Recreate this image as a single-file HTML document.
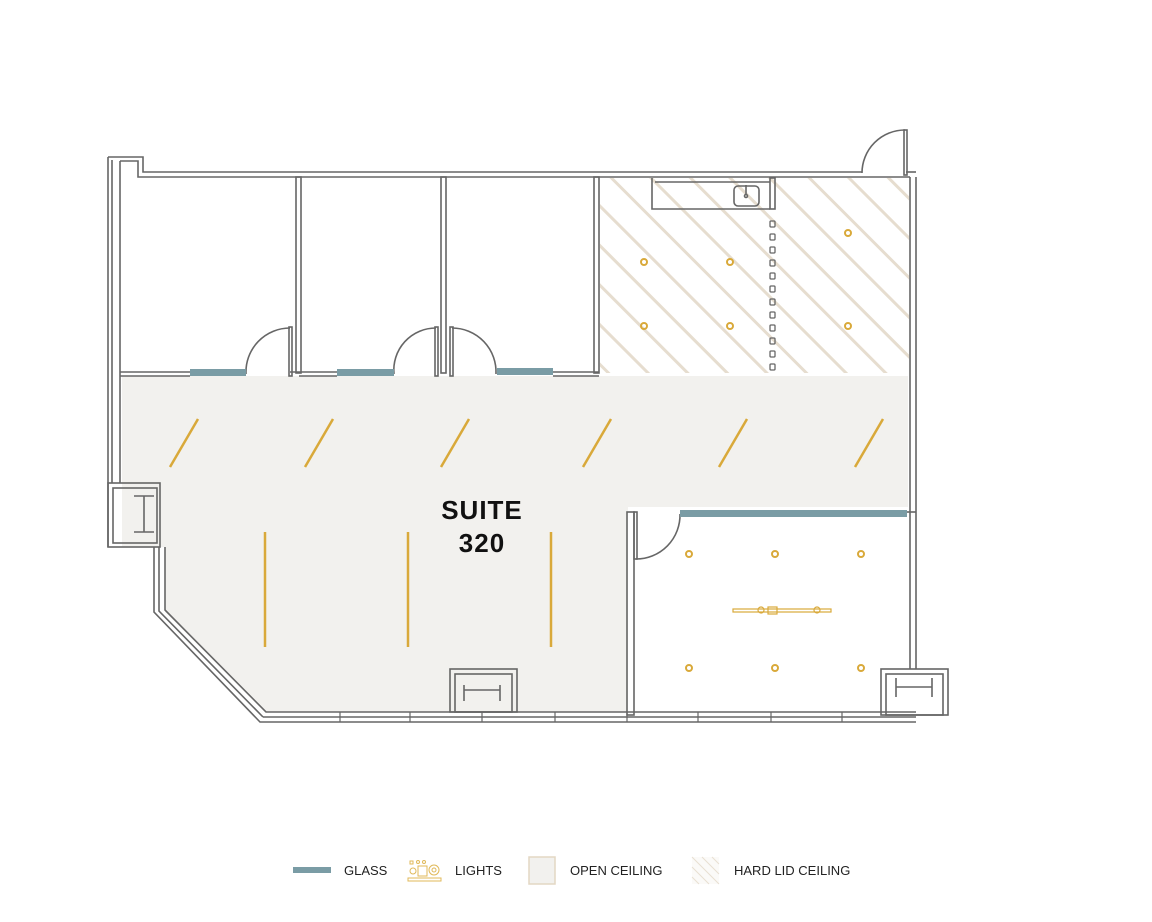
<!DOCTYPE html>
<html><head><meta charset="utf-8"><style>
html,body{margin:0;padding:0;background:#fff;}
svg{display:block;}
</style></head><body>
<svg width="1152" height="922" viewBox="0 0 1152 922" xmlns="http://www.w3.org/2000/svg" font-family="Liberation Sans, sans-serif">
<defs>
<pattern id="hatch" patternUnits="userSpaceOnUse" width="28" height="28" patternTransform="rotate(45)">
<rect width="28" height="28" fill="#fff"/>
<rect x="0" y="0" width="28" height="3" fill="#e6ddcf"/>
</pattern>
</defs>
<!-- open ceiling -->
<polygon points="122,376 908,376 908,507 628,507 628,712 265,712 165,612 165,547 122,547" fill="#f2f1ee"/>
<!-- hard lid -->
<rect x="600" y="178" width="309" height="195" fill="url(#hatch)"/>
<g fill="none" stroke="#666" stroke-width="1.6">
<polyline points="108,157 143,157 143,172 862,172"/>
<polyline points="120,161 138,161 138,177 910,177"/>
<line x1="906" y1="172" x2="916" y2="172"/>
<line x1="108" y1="157" x2="108" y2="547"/>
<line x1="112" y1="160" x2="112" y2="483"/>
<line x1="120" y1="161" x2="120" y2="483"/>
<rect x="108" y="483" width="52" height="64"/>
<rect x="113" y="488" width="44" height="55"/>
<line x1="134" y1="496" x2="154" y2="496"/><line x1="134" y1="532" x2="154" y2="532"/><line x1="144" y1="496" x2="144" y2="532"/>
<polyline points="154,547 154,612 260,722 916,722"/>
<polyline points="165,547 165,610 266,712 916,712"/>
<polyline points="159,547 159,611 263,717"/>
<line x1="263" y1="717" x2="916" y2="717"/>
<g stroke-width="1.2">
<line x1="340" y1="712" x2="340" y2="722"/><line x1="410" y1="712" x2="410" y2="722"/><line x1="482" y1="712" x2="482" y2="722"/><line x1="555" y1="712" x2="555" y2="722"/><line x1="627" y1="712" x2="627" y2="722"/><line x1="698" y1="712" x2="698" y2="722"/><line x1="771" y1="712" x2="771" y2="722"/><line x1="842" y1="712" x2="842" y2="722"/>
</g>
<rect x="450" y="669" width="67" height="43"/>
<rect x="455" y="674" width="57" height="38"/>
<line x1="464" y1="685" x2="464" y2="701"/><line x1="500" y1="685" x2="500" y2="701"/><line x1="464" y1="690" x2="500" y2="690"/>
<rect x="881" y="669" width="67" height="46"/>
<rect x="886" y="674" width="57" height="41"/>
<line x1="896" y1="678" x2="896" y2="697"/><line x1="932" y1="678" x2="932" y2="697"/><line x1="896" y1="687" x2="932" y2="687"/>
<line x1="910" y1="177" x2="910" y2="669"/>
<line x1="916" y1="177" x2="916" y2="669"/>
<rect x="296" y="177" width="5" height="196"/>
<rect x="441" y="177" width="5" height="196"/>
<rect x="594" y="177" width="5" height="196"/>
<line x1="120" y1="372" x2="190" y2="372"/><line x1="120" y1="376" x2="190" y2="376"/>
<line x1="290" y1="372" x2="337" y2="372"/><line x1="299" y1="376" x2="337" y2="376"/>
<line x1="553" y1="372" x2="599" y2="372"/><line x1="553" y1="376" x2="599" y2="376"/>
<rect x="289" y="327" width="3" height="49"/>
<path d="M290,328 A44,44 0 0 0 246,374"/>
<rect x="435" y="327" width="3" height="49"/>
<path d="M436,328 A42,42 0 0 0 394,374"/>
<rect x="450" y="327" width="3" height="49"/>
<path d="M452,328 A44,44 0 0 1 496,374"/>
<rect x="904" y="130" width="3" height="45"/>
<path d="M905,130 A43,43 0 0 0 862,173"/>
<polyline points="652,178 652,209 770,209"/>
<rect x="770" y="178" width="5" height="31"/>
<line x1="655" y1="182" x2="770" y2="182"/>
<rect x="734" y="186" width="25" height="20" rx="4"/>
<circle cx="746" cy="196" r="1.5"/><line x1="746" y1="185" x2="746" y2="194"/>
<rect x="627" y="512" width="7" height="203"/>
<rect x="634" y="512" width="3" height="47"/>
<path d="M636,559 A44,44 0 0 0 680,514"/>
<line x1="907" y1="512" x2="916" y2="512"/>
</g>
<g fill="none" stroke="#666" stroke-width="1.3">
<rect x="770" y="221" width="5" height="6" rx="1"/><rect x="770" y="234" width="5" height="6" rx="1"/><rect x="770" y="247" width="5" height="6" rx="1"/><rect x="770" y="260" width="5" height="6" rx="1"/><rect x="770" y="273" width="5" height="6" rx="1"/><rect x="770" y="286" width="5" height="6" rx="1"/><rect x="770" y="299" width="5" height="6" rx="1"/><rect x="770" y="312" width="5" height="6" rx="1"/><rect x="770" y="325" width="5" height="6" rx="1"/><rect x="770" y="338" width="5" height="6" rx="1"/><rect x="770" y="351" width="5" height="6" rx="1"/><rect x="770" y="364" width="5" height="6" rx="1"/>
</g>
<g fill="#7a9ca5">
<rect x="190" y="369" width="56" height="7"/>
<rect x="337" y="369" width="57" height="7"/>
<rect x="497" y="368" width="56" height="7"/>
<rect x="680" y="510" width="227" height="7"/>
</g>
<g fill="none" stroke="#d9a93a" stroke-width="2">
<circle cx="644" cy="262" r="3"/><circle cx="730" cy="262" r="3"/><circle cx="848" cy="233" r="3"/>
<circle cx="644" cy="326" r="3"/><circle cx="730" cy="326" r="3"/><circle cx="848" cy="326" r="3"/>
<circle cx="689" cy="554" r="3"/><circle cx="775" cy="554" r="3"/><circle cx="861" cy="554" r="3"/>
<circle cx="689" cy="668" r="3"/><circle cx="775" cy="668" r="3"/><circle cx="861" cy="668" r="3"/>
</g>
<g stroke="#d9a93a" stroke-width="2.5">
<line x1="170" y1="467" x2="198" y2="419"/><line x1="305" y1="467" x2="333" y2="419"/><line x1="441" y1="467" x2="469" y2="419"/><line x1="583" y1="467" x2="611" y2="419"/><line x1="719" y1="467" x2="747" y2="419"/><line x1="855" y1="467" x2="883" y2="419"/>
<line x1="265" y1="532" x2="265" y2="647"/><line x1="408" y1="532" x2="408" y2="647"/><line x1="551" y1="532" x2="551" y2="647"/>
</g>
<g fill="none" stroke="#d9a93a" stroke-width="1.2">
<rect x="733" y="609" width="98" height="3"/>
<rect x="768" y="607" width="9" height="7"/>
<circle cx="761" cy="610" r="3"/><circle cx="817" cy="610" r="3"/>
</g>
<text x="482" y="519" text-anchor="middle" font-size="26" font-weight="bold" fill="#111" letter-spacing="1">SUITE</text>
<text x="482" y="552" text-anchor="middle" font-size="26" font-weight="bold" fill="#111" letter-spacing="1">320</text>
<rect x="293" y="867" width="38" height="6" fill="#7a9ca5"/>
<text x="344" y="875" font-size="13" fill="#222">GLASS</text>
<g fill="none" stroke="#e0b95a" stroke-width="1">
<rect x="410" y="861" width="3" height="3"/><circle cx="418" cy="862" r="1.5"/><circle cx="424" cy="862" r="1.5"/>
<circle cx="413" cy="871" r="3"/><rect x="418" y="866" width="9" height="10"/><circle cx="434" cy="870" r="5"/><circle cx="434" cy="870" r="2"/>
<rect x="408" y="878" width="33" height="3"/>
</g>
<text x="455" y="875" font-size="13" fill="#222">LIGHTS</text>
<rect x="529" y="857" width="26" height="27" fill="#f2f1ee" stroke="#e3d7c3" stroke-width="1.5"/>
<text x="570" y="875" font-size="13" fill="#222">OPEN CEILING</text>
<rect x="692" y="857" width="27" height="27" fill="#fbfaf8"/>
<g stroke="#e8dfd2" stroke-width="1"><line x1="692" y1="857" x2="719" y2="884"/><line x1="692" y1="867" x2="709" y2="884"/><line x1="702" y1="857" x2="719" y2="874"/><line x1="712" y1="857" x2="719" y2="864"/><line x1="692" y1="877" x2="699" y2="884"/></g>
<text x="734" y="875" font-size="13" fill="#222">HARD LID CEILING</text>
</svg>
</body></html>
